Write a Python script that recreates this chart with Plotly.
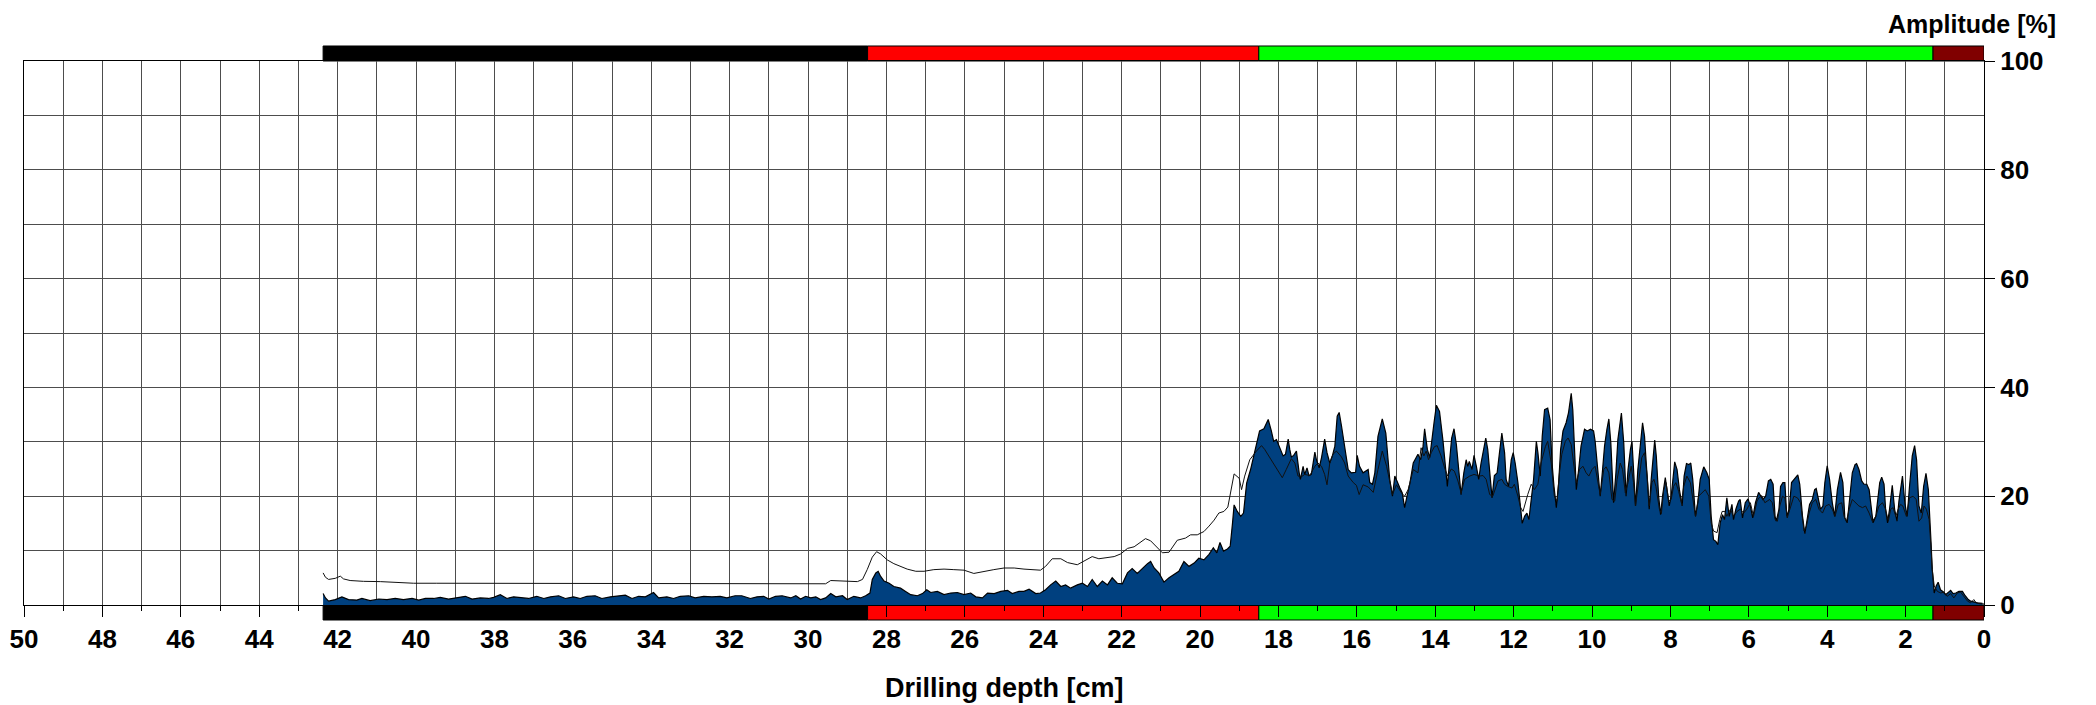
import plotly.graph_objects as go

# ---------------- data ----------------
# Amplitude (filled blue curve): drilling depth [cm] and amplitude [%]
depth_amp = [
    42.37, 42.31, 42.23, 42.06, 41.89, 41.72, 41.51, 41.38, 41.17, 40.95,
    40.74, 40.53, 40.32, 40.10, 39.93, 39.76, 39.55, 39.38, 39.17, 39.00,
    38.74, 38.57, 38.36, 38.15, 38.02, 37.85, 37.68, 37.51, 37.30, 37.13,
    36.92, 36.74, 36.57, 36.36, 36.19, 35.98, 35.81, 35.64, 35.43, 35.26,
    35.04, 34.87, 34.66, 34.49, 34.32, 34.15, 33.94, 33.81, 33.60, 33.43,
    33.26, 33.04, 32.88, 32.66, 32.45, 32.24, 32.07, 31.86, 31.69, 31.47,
    31.30, 31.13, 31.00, 30.83, 30.66,
    30.44, 30.31, 30.19, 30.06, 29.93, 29.80, 29.68, 29.55, 29.42, 29.29,
    29.12, 29.00, 28.83, 28.66, 28.53, 28.42, 28.36, 28.27, 28.21, 28.15,
    28.06, 27.93, 27.81, 27.64, 27.51, 27.38, 27.21, 27.08, 26.97, 26.87,
    26.70, 26.53, 26.36, 26.19, 26.02, 25.85, 25.72, 25.55, 25.42, 25.25,
    25.08, 24.91, 24.79, 24.62, 24.49, 24.36, 24.19, 24.07, 23.94, 23.81,
    23.68, 23.55, 23.43, 23.30, 23.13, 23.00, 22.87, 22.75, 22.62, 22.49,
    22.36, 22.24, 22.11, 21.98, 21.85, 21.73, 21.60, 21.47, 21.34, 21.26,
    21.17, 21.05, 20.92, 20.79, 20.66, 20.54, 20.41, 20.28, 20.15, 20.03,
    19.90, 19.77, 19.66, 19.57, 19.49, 19.40, 19.30, 19.23, 19.17, 19.13,
    19.05, 18.96, 18.89, 18.81, 18.71,
    18.56, 18.48, 18.37, 18.26, 18.18, 18.12, 18.05, 17.98, 17.88, 17.82,
    17.75, 17.71, 17.67, 17.61, 17.54, 17.47, 17.44, 17.37, 17.33, 17.27,
    17.22, 17.16, 17.07, 17.03, 16.96, 16.90, 16.82, 16.76, 16.69, 16.62,
    16.56, 16.50, 16.45, 16.39, 16.31, 16.22, 16.14, 16.03, 15.99, 15.93,
    15.84, 15.76, 15.71, 15.67, 15.60, 15.54, 15.46, 15.35, 15.26, 15.16,
    15.09, 15.03, 14.97, 14.90, 14.84, 14.78, 14.72, 14.65, 14.56,
    14.44, 14.37, 14.31, 14.27, 14.20, 14.14, 14.08, 14.03, 13.97, 13.89,
    13.80, 13.74, 13.69, 13.63, 13.58, 13.52, 13.46, 13.40, 13.34, 13.27,
    13.21, 13.17, 13.13, 13.06, 13.01, 12.95, 12.89, 12.83, 12.76, 12.71,
    12.66, 12.59, 12.55, 12.49, 12.42, 12.36, 12.30, 12.23, 12.19, 12.13,
    12.06, 12.01, 11.96, 11.89, 11.82, 11.78, 11.72, 11.66, 11.61, 11.55,
    11.49, 11.42, 11.38, 11.32, 11.27, 11.21, 11.13, 11.07, 11.02, 10.97,
    10.91, 10.85, 10.80, 10.74, 10.66, 10.60, 10.53, 10.49, 10.45, 10.40,
    10.34, 10.28, 10.19, 10.12,
    10.04, 9.96, 9.92, 9.85, 9.79, 9.73, 9.68, 9.62, 9.57, 9.52,
    9.45, 9.39, 9.34, 9.25, 9.19, 9.13, 9.08, 9.02, 8.98, 8.94,
    8.89, 8.83, 8.77, 8.71, 8.66, 8.60, 8.54, 8.49, 8.44, 8.40,
    8.36, 8.30, 8.25, 8.20, 8.13, 8.08, 8.03, 7.98, 7.93, 7.89,
    7.83, 7.77, 7.70, 7.65, 7.59, 7.53, 7.48, 7.43, 7.36, 7.30,
    7.24, 7.15, 7.07, 7.01, 6.96, 6.90, 6.84, 6.79, 6.73, 6.67,
    6.62, 6.56, 6.50, 6.43, 6.39, 6.33, 6.26, 6.22, 6.16, 6.09,
    6.02, 5.96, 5.90, 5.83, 5.75,
    5.64, 5.57, 5.50, 5.44, 5.38, 5.33, 5.30, 5.23, 5.19, 5.13,
    5.08, 5.03, 4.97, 4.91, 4.82, 4.75, 4.70, 4.63, 4.57, 4.51,
    4.45, 4.38, 4.32, 4.28, 4.23, 4.17, 4.11, 4.06, 4.00, 3.94,
    3.87, 3.81, 3.74, 3.66, 3.60, 3.55, 3.49, 3.43, 3.36, 3.29,
    3.25, 3.19, 3.12, 3.06, 2.99, 2.93, 2.87, 2.83, 2.76, 2.72,
    2.66, 2.61, 2.55, 2.51, 2.46, 2.41, 2.34, 2.28, 2.22, 2.17,
    2.11, 2.08, 2.02, 1.96, 1.90, 1.83, 1.77, 1.72, 1.66, 1.60,
    1.54, 1.48, 1.42, 1.39, 1.35, 1.32, 1.27, 1.22, 1.17, 1.11,
    1.05, 0.98, 0.91, 0.85, 0.79, 0.72, 0.64, 0.55, 0.48, 0.40,
    0.34, 0.26, 0.17, 0.04,
]
amplitude = [
    2.1, 1.3, 0.7, 1.0, 1.5, 1.0, 0.9, 1.2, 0.8, 1.1,
    1.0, 1.2, 1.0, 1.2, 0.9, 1.2, 1.2, 1.4, 1.1, 1.3,
    1.6, 1.1, 1.3, 1.2, 1.4, 1.9, 1.2, 1.5, 1.3, 1.2,
    1.6, 1.2, 1.5, 1.7, 1.2, 1.5, 1.2, 1.6, 1.7, 1.2,
    1.5, 1.6, 1.8, 1.2, 1.6, 1.5, 2.3, 1.3, 1.5, 1.2,
    1.6, 1.7, 1.3, 1.6, 1.5, 1.6, 1.3, 1.7, 1.7, 1.2,
    1.5, 1.6, 1.1, 1.6, 1.7,
    1.3, 1.7, 1.1, 1.6, 1.3, 1.5, 1.0, 1.3, 2.1, 1.5,
    1.7, 1.0, 1.6, 1.3, 1.7, 2.2, 4.7, 5.9, 6.2, 5.3,
    4.4, 4.0, 3.4, 3.1, 2.5, 1.9, 1.7, 2.1, 2.8, 2.3,
    2.5, 1.9, 2.2, 2.3, 1.9, 2.2, 1.5, 1.3, 2.2, 2.1,
    2.5, 2.7, 2.1, 2.5, 2.5, 2.9, 2.1, 2.2, 2.8, 3.7,
    4.4, 3.4, 3.7, 3.1, 3.7, 4.0, 3.4, 4.7, 3.4, 4.4,
    3.7, 5.0, 4.0, 3.9, 5.9, 6.7, 5.8, 6.8, 7.6, 8.0,
    6.8, 5.9, 4.2, 5.0, 5.6, 6.2, 8.0, 7.1, 7.7, 8.6,
    8.3, 9.3, 10.5, 9.6, 11.5, 9.9, 10.3, 10.8, 15.1, 18.4,
    17.2, 16.3, 16.9, 22.4, 24.9,
    29.2, 32.0, 32.4, 34.1, 32.0, 30.1, 30.4, 29.2, 27.4, 27.7,
    30.5, 28.6, 27.2, 27.5, 28.3, 24.3, 23.1, 25.5, 24.0, 25.2,
    23.8, 24.0, 28.1, 26.7, 25.2, 27.1, 30.5, 28.0, 26.1, 27.5,
    29.2, 34.7, 35.4, 32.9, 29.2, 24.9, 24.3, 24.4, 27.5, 25.5,
    24.3, 24.6, 24.9, 22.5, 22.2, 24.3, 31.0, 34.2, 31.6, 23.1,
    20.0, 23.7, 22.5, 21.5, 20.6, 17.9, 20.0, 22.2, 26.1,
    27.7, 26.7, 29.2, 32.4, 28.6, 27.1, 30.1, 33.5, 36.7, 35.6,
    30.1, 24.9, 21.8, 26.7, 30.7, 32.4, 29.5, 24.9, 20.3, 24.3,
    26.7, 25.5, 26.4, 24.9, 27.5, 25.5, 23.1, 26.1, 29.2, 30.7,
    28.6, 22.2, 19.7, 23.8, 24.3, 28.0, 31.6, 28.0, 23.1, 21.8,
    26.7, 28.0, 26.1, 22.5, 17.6, 15.0, 16.3, 16.9, 15.7, 19.4,
    23.1, 30.1, 28.0, 23.7, 31.0, 35.9, 36.2, 34.1, 26.1, 21.8,
    17.9, 22.5, 28.6, 32.0, 33.5, 35.3, 38.9, 35.9, 28.0, 21.2,
    24.9, 29.2, 32.3, 32.0,
    32.3, 32.0, 30.1, 24.9, 20.0, 24.9, 29.2, 32.3, 34.2, 29.8,
    18.8, 24.3, 30.4, 35.3, 29.8, 20.0, 24.9, 28.6, 30.1, 24.9,
    18.2, 24.9, 29.8, 33.5, 31.0, 23.1, 17.6, 23.1, 28.0, 30.3,
    27.4, 20.0, 16.6, 20.0, 23.4, 21.2, 18.2, 20.0, 23.7, 26.3,
    24.9, 21.2, 18.2, 23.7, 26.0, 25.8, 26.1, 23.1, 16.3, 18.8,
    23.1, 25.4, 24.3, 23.1, 16.3, 12.0, 11.7, 11.1, 15.1, 16.6,
    15.7, 19.7, 16.3, 18.5, 15.7, 17.6, 19.1, 19.4, 16.0, 18.8,
    19.5, 18.2, 16.0, 18.8, 20.7,
    19.4, 20.0, 22.8, 23.1, 22.2, 16.3, 15.4, 17.6, 21.8, 22.5,
    22.5, 16.3, 17.6, 22.5, 23.4, 23.9, 22.2, 16.3, 13.1, 16.3,
    18.5, 19.4, 21.2, 21.4, 19.4, 17.6, 18.2, 22.5, 25.6, 23.1,
    18.8, 16.3, 21.2, 24.4, 22.5, 16.0, 15.1, 20.0, 24.3, 25.8,
    26.0, 24.9, 22.8, 22.2, 22.2, 21.2, 17.6, 15.1, 16.3, 18.8,
    22.5, 23.5, 22.2, 17.6, 15.1, 17.6, 22.0, 17.6, 15.4, 19.1,
    22.8, 23.7, 18.8, 16.3, 21.8, 27.4, 29.3, 26.7, 18.2, 16.9,
    21.8, 24.2, 21.2, 17.6, 11.4, 6.5, 2.2, 3.5, 4.2, 2.8,
    2.5, 1.9, 2.4, 2.7, 2.1, 2.2, 2.5, 2.5, 1.7, 1.0,
    0.7, 0.5, 0.4, 0.3,
]

# Thin second curve (feed): drilling depth [cm] and value [%]
depth_feed = [
    42.37, 42.31, 42.23, 42.06, 41.93, 41.85, 41.68, 41.34, 40.91, 40.57,
    40.06, 39.47, 38.19, 36.49, 34.79, 33.09, 30.44, 29.55, 29.42, 29.00,
    28.74, 28.61, 28.49, 28.36, 28.25, 28.15, 27.98, 27.81, 27.64, 27.47,
    27.25, 27.04, 26.79, 26.53, 26.28, 26.02, 25.77, 25.51, 25.26, 25.00,
    24.74, 24.49, 24.23, 24.07, 23.94, 23.77, 23.55, 23.38, 23.13, 22.96,
    22.75, 22.58, 22.36, 22.19, 22.02, 21.85, 21.68, 21.51, 21.39, 21.26,
    21.09, 20.96, 20.79, 20.58, 20.37, 20.24, 20.07, 19.90, 19.77, 19.64,
    19.52, 19.39, 19.29, 19.20, 19.13, 19.00, 18.94, 18.86,
    18.73, 18.56, 18.43, 18.35, 18.22, 18.09, 17.97, 17.90, 17.80, 17.67,
    17.58, 17.50, 17.41, 17.33, 17.20, 17.07, 16.99, 16.90, 16.82, 16.76,
    16.69, 16.61, 16.52, 16.39, 16.31, 16.22, 16.09, 16.01, 15.94, 15.84,
    15.71, 15.58, 15.46, 15.35, 15.24, 15.16, 15.09, 14.99, 14.86, 14.78,
    14.69, 14.56,
    14.44, 14.36, 14.29, 14.23, 14.17, 14.10, 14.02, 13.95, 13.85, 13.76,
    13.68, 13.59, 13.51, 13.42, 13.34, 13.25, 13.12, 13.01, 12.87, 12.78,
    12.70, 12.61, 12.53, 12.40, 12.30, 12.23, 12.15, 12.04, 11.98, 11.89,
    11.82, 11.76, 11.70, 11.64, 11.55, 11.47, 11.38, 11.30, 11.19, 11.13,
    11.04, 10.96, 10.89, 10.83, 10.77, 10.68, 10.61, 10.53, 10.46, 10.40,
    10.32, 10.23, 10.15,
    10.08, 10.00, 9.92, 9.83, 9.79, 9.70, 9.64, 9.57, 9.49, 9.42,
    9.36, 9.28, 9.22, 9.15, 9.08, 9.00, 8.94, 8.89, 8.81, 8.73,
    8.66, 8.59, 8.54, 8.47, 8.42, 8.37, 8.28, 8.23, 8.17, 8.11,
    8.04, 7.98, 7.92, 7.86, 7.79, 7.72, 7.66, 7.58, 7.49, 7.43,
    7.36, 7.28, 7.19, 7.11, 7.02, 6.96, 6.90, 6.81, 6.74, 6.68,
    6.61, 6.56, 6.47, 6.39, 6.30, 6.22, 6.13, 6.05, 5.96, 5.88,
    5.79,
    5.74, 5.67, 5.59, 5.53, 5.47, 5.40, 5.33, 5.27, 5.21, 5.14,
    5.08, 5.02, 4.93, 4.85, 4.76, 4.68, 4.59, 4.53, 4.46, 4.38,
    4.29, 4.21, 4.12, 4.04, 3.95, 3.87, 3.80, 3.72, 3.63, 3.57,
    3.51, 3.44, 3.36, 3.27, 3.19, 3.10, 3.02, 2.93, 2.85, 2.76,
    2.68, 2.59, 2.51, 2.44, 2.38, 2.32, 2.25, 2.19, 2.13, 2.07,
    1.98, 1.90, 1.81, 1.73, 1.66, 1.59, 1.53, 1.47, 1.40, 1.36,
    1.32, 1.27, 1.19, 1.10, 1.02, 0.94, 0.85, 0.77, 0.68, 0.60,
    0.51, 0.42, 0.34, 0.26, 0.20, 0.09, 0.00,
]
feed = [
    5.9, 5.1, 4.7, 4.9, 5.3, 4.8, 4.5, 4.35, 4.3, 4.2,
    4.0, 4.0, 4.0, 3.9, 3.9, 3.9, 3.9, 3.9, 4.5, 4.4,
    4.3, 4.7, 6.5, 8.8, 9.8, 9.4, 8.3, 7.6, 7.1, 6.6,
    6.2, 6.2, 6.5, 6.6, 6.5, 6.4, 5.8, 6.2, 6.5, 6.8,
    6.8, 6.6, 6.5, 6.4, 7.1, 8.5, 8.5, 7.8, 7.4, 8.1,
    8.9, 8.5, 8.7, 8.9, 9.4, 10.4, 10.7, 11.5, 12.2, 11.8,
    10.5, 9.6, 9.7, 11.9, 12.3, 12.9, 12.9, 13.5, 14.5, 15.6,
    16.9, 17.2, 18.0, 21.8, 24.1, 23.3, 21.2, 23.7,
    26.7, 28.3, 29.3, 28.6, 27.1, 25.8, 24.3, 23.4, 24.9, 26.9,
    26.1, 23.7, 23.6, 24.0, 23.8, 25.5, 26.1, 25.5, 24.0, 22.1,
    26.1, 27.7, 28.3, 27.2, 26.1, 23.7, 22.5, 22.0, 20.3, 22.1,
    21.7, 20.7, 24.9, 28.3, 25.5, 22.5, 20.3, 22.1, 20.6, 20.0,
    21.2, 24.9,
    24.3, 28.9, 27.4, 28.3, 26.7, 28.0, 29.1, 29.3, 27.4, 25.2,
    23.7, 25.0, 24.6, 22.8, 20.6, 23.1, 23.7, 24.0, 23.7, 23.8,
    23.1, 20.3, 20.0, 22.8, 23.1, 22.2, 21.8, 21.5, 22.2, 20.0,
    17.9, 17.2, 18.8, 20.3, 22.2, 21.2, 22.2, 26.1, 29.1, 30.1,
    26.1, 20.0, 19.1, 24.3, 27.7, 30.1, 30.7, 29.5, 25.5, 22.5,
    24.9, 25.5, 24.3,
    23.7, 24.9, 25.5, 21.8, 20.3, 24.9, 25.4, 24.3, 19.4, 19.1,
    23.1, 26.1, 24.9, 20.6, 22.5, 25.5, 22.5, 18.2, 22.5, 27.1,
    28.0, 23.7, 18.2, 22.5, 23.1, 21.8, 17.6, 16.8, 21.2, 22.5,
    19.1, 19.4, 21.8, 22.5, 20.9, 18.8, 21.8, 23.7, 22.5, 20.0,
    16.3, 20.0, 20.6, 21.2, 20.0, 15.1, 13.6, 13.3, 15.7, 17.2,
    17.2, 16.3, 17.6, 16.3, 17.2, 17.6, 16.9, 17.6, 18.8, 16.3,
    19.1,
    19.7, 20.1, 18.8, 19.1, 19.4, 18.8, 15.7, 15.4, 18.2, 20.0,
    19.7, 16.0, 18.2, 20.0, 19.7, 18.8, 13.6, 14.5, 16.9, 18.8,
    19.4, 17.6, 16.9, 18.2, 18.5, 17.6, 16.3, 18.5, 18.8, 16.3,
    15.4, 17.6, 19.4, 18.8, 18.2, 17.9, 18.2, 16.9, 15.4, 16.3,
    18.2, 18.8, 17.6, 15.4, 17.6, 17.9, 16.3, 17.6, 18.5, 18.2,
    16.3, 19.7, 20.0, 19.4, 15.4, 16.0, 18.2, 17.6, 15.7, 11.4,
    6.5, 3.5, 2.5, 2.2, 2.4, 1.6, 2.1, 1.3, 2.2, 2.4,
    1.6, 0.7, 0.4, 1.0, 0.4, 0.2, 0.2,
]

# Zone bars (top and bottom) along the depth axis
zone_start = [42.37, 28.48, 18.5, 1.3]
zone_end = [28.48, 18.5, 1.3, 0.0]
zone_color = ["#000000", "#FF0000", "#00FF00", "#800000"]

x_ticks = list(range(0, 51, 2))
y_ticks = [0, 20, 40, 60, 80, 100]

FONT = "Liberation Sans, Arial, sans-serif"

fig = go.Figure()
fig.add_trace(go.Scatter(
    x=depth_amp, y=amplitude, mode="lines", fill="tozeroy",
    fillcolor="#00407F", line=dict(color="#000000", width=1.2),
    showlegend=False, hoverinfo="skip"))
fig.add_trace(go.Scatter(
    x=depth_feed, y=feed, mode="lines",
    line=dict(color="#111111", width=1),
    showlegend=False, hoverinfo="skip"))

bar_h = 0.0276
for s, e, c in zip(zone_start, zone_end, zone_color):
    for y0, y1 in ((1.0, 1.0 + bar_h), (-bar_h, 0.0)):
        fig.add_shape(type="rect", xref="x", yref="paper",
                      x0=s, x1=e, y0=y0, y1=y1,
                      fillcolor=c, line=dict(color="#000000", width=1),
                      layer="below")

tickfont = dict(family=FONT, size=26, color="black", weight="bold")
ytitlefont = dict(family=FONT, size=25, color="black", weight="bold")
xtitlefont = dict(family=FONT, size=27, color="black", weight="bold")

fig.update_layout(
    width=2088, height=697, autosize=False,
    margin=dict(l=16, r=112, t=53, b=100, pad=0, autoexpand=False),
    paper_bgcolor="white", plot_bgcolor="white",
    font=tickfont,
    xaxis=dict(
        range=[50, 0], tickvals=x_ticks, ticktext=[str(v) for v in x_ticks],
        ticks="outside", ticklen=11, tickwidth=1, tickcolor="black",
        ticklabeloverflow="allow", automargin=False,
        showgrid=True, gridcolor="#4d4d4d", gridwidth=1,
        minor=dict(dtick=1, showgrid=True, gridcolor="#4d4d4d", gridwidth=1,
                   ticks="outside", ticklen=5, tickcolor="black"),
        showline=True, linecolor="black", linewidth=1, mirror=True,
        zeroline=False, tickfont=tickfont,
    ),
    yaxis=dict(
        range=[0, 100], side="right", tickvals=y_ticks,
        ticktext=[str(v) for v in y_ticks],
        ticks="outside", ticklen=10, tickwidth=1, tickcolor="black",
        ticklabeloverflow="allow", automargin=False,
        showgrid=True, gridcolor="#4d4d4d", gridwidth=1,
        minor=dict(dtick=10, showgrid=True, gridcolor="#4d4d4d", gridwidth=1),
        showline=True, linecolor="black", linewidth=1, mirror=True,
        zeroline=False, tickfont=tickfont,
    ),
    annotations=[
        dict(text="Amplitude [%]", xref="paper", yref="paper",
             x=1.0378, y=1.068, xanchor="right", yanchor="middle",
             showarrow=False, font=ytitlefont),
        dict(text="Drilling depth [cm]", xref="paper", yref="paper",
             x=0.5, y=-0.152, xanchor="center", yanchor="middle",
             showarrow=False, font=xtitlefont),
    ],
)

fig.write_html("out.html")
